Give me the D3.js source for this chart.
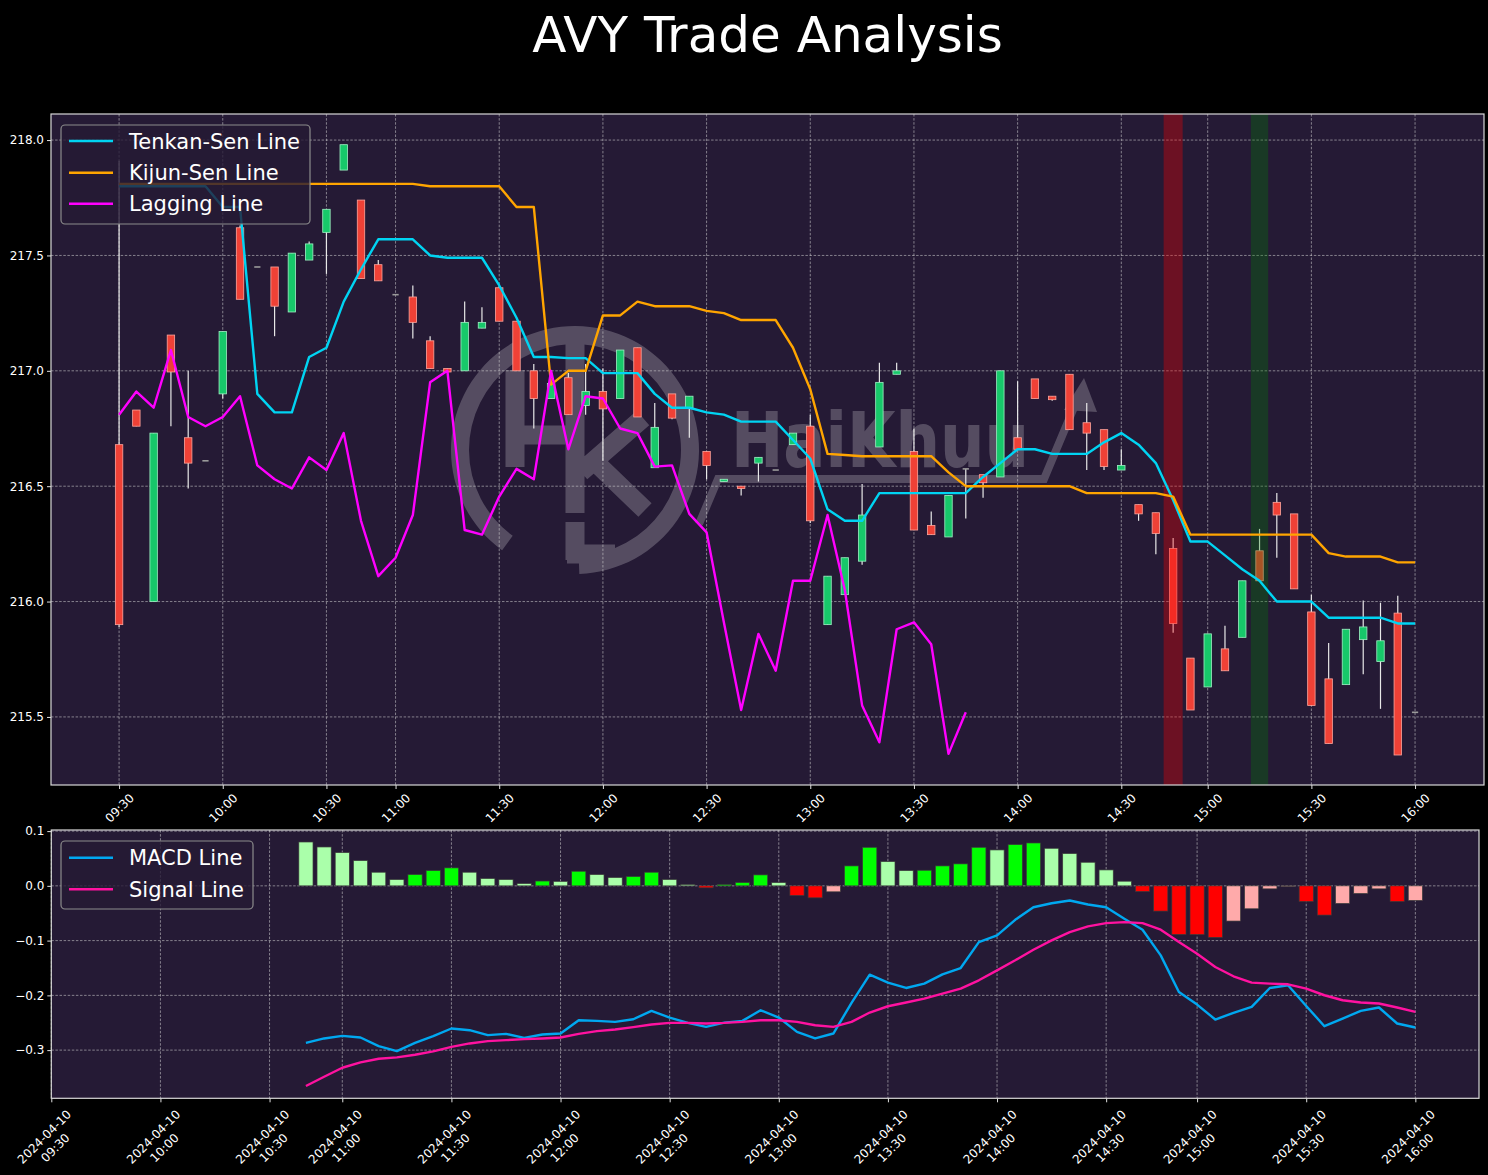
<!DOCTYPE html>
<html><head><meta charset="utf-8">
<script src="https://cdn.jsdelivr.net/npm/d3@7"></script>
<style>
body{margin:0;background:#000;}
svg{display:block;}
text{font-family:"DejaVu Sans",sans-serif;}
</style>
</head><body>
<svg id="chart" width="1488" height="1175"></svg>
<script>
// ---------------- DATA ----------------
const chartTitle = "AVY Trade Analysis";
const dateLabel = "2024-04-10";
const tickIndex = [0,6,12,16,22,28,34,40,46,52,58,63,69,75];
const tickLabels = ["09:30","10:00","10:30","11:00","11:30","12:00","12:30","13:00","13:30","14:00","14:30","15:00","15:30","16:00"];
const priceTicks = [215.5,216.0,216.5,217.0,217.5,218.0];
const macdTicks = [0.1,0.0,-0.1,-0.2,-0.3];

const openP = [216.68,216.83,216.00,217.155,216.71,216.61,216.90,217.62,217.45,217.45,
217.255,217.48,217.60,217.87,217.74,217.46,217.33,217.32,217.13,217.01,
217.00,217.185,217.36,217.215,217.00,216.88,216.97,216.85,216.91,216.88,
217.10,216.58,216.90,216.84,216.65,216.52,216.50,216.60,216.57,216.68,
216.76,215.90,216.03,216.175,216.67,216.985,216.65,216.33,216.28,216.575,
216.55,216.54,216.71,216.965,216.89,216.985,216.775,216.745,216.57,216.42,
216.385,216.23,215.755,215.63,215.795,215.845,216.22,216.43,216.38,215.955,
215.665,215.64,215.835,215.74,215.95,215.52];
const highP = [217.91,216.83,216.73,217.155,217.00,216.61,217.17,217.63,217.45,217.45,
217.51,217.56,217.70,217.98,217.74,217.48,217.33,217.37,217.15,217.01,
217.30,217.275,217.37,217.215,217.03,216.95,216.99,217.03,217.01,217.09,
217.10,216.86,216.90,216.89,216.65,216.53,216.50,216.625,216.57,216.73,
216.81,216.11,216.19,216.51,217.035,217.035,216.75,216.39,216.46,216.575,
216.55,217.00,216.955,216.965,216.89,216.985,216.86,216.745,216.66,216.42,
216.385,216.275,215.755,215.86,215.895,216.09,216.315,216.47,216.38,216.03,
215.82,215.88,216.005,215.995,216.025,215.52];
const lowP = [215.89,216.76,216.00,216.76,216.49,216.61,216.88,217.31,217.45,217.15,
217.255,217.48,217.42,217.87,217.40,217.39,217.33,217.14,217.01,216.99,
217.00,217.185,217.215,217.00,216.75,216.88,216.81,216.81,216.61,216.88,
216.80,216.58,216.79,216.71,216.53,216.52,216.46,216.52,216.57,216.68,
216.34,215.90,216.03,216.16,216.67,216.985,216.31,216.29,216.28,216.36,
216.45,216.54,216.66,216.88,216.87,216.745,216.57,216.57,216.57,216.35,
216.205,215.865,215.53,215.63,215.70,215.845,216.09,216.19,216.055,215.55,
215.385,215.64,215.685,215.535,215.335,215.52];
const closeP = [215.90,216.76,216.73,216.995,216.60,216.61,217.17,217.31,217.45,217.28,
217.51,217.55,217.70,217.98,217.40,217.39,217.33,217.21,217.01,216.995,
217.21,217.21,217.215,217.00,216.88,216.945,216.81,216.91,216.835,217.09,
216.80,216.755,216.795,216.89,216.59,216.53,216.49,216.625,216.57,216.73,
216.35,216.11,216.19,216.375,216.95,217.00,216.31,216.29,216.46,216.575,
216.515,217.00,216.66,216.88,216.875,216.745,216.73,216.585,216.59,216.38,
216.295,215.905,215.53,215.86,215.70,216.09,216.09,216.375,216.055,215.55,
215.385,215.88,215.89,215.83,215.335,215.52];

const tenkan = [217.80,217.80,217.80,217.80,217.80,217.80,217.71,217.71,216.90,216.82,
216.82,217.06,217.10,217.30,217.44,217.57,217.57,217.57,217.50,217.49,
217.49,217.49,217.37,217.23,217.06,217.06,217.055,217.055,216.99,216.99,
216.99,216.90,216.84,216.84,216.82,216.81,216.78,216.78,216.78,216.70,
216.62,216.40,216.35,216.35,216.47,216.47,216.47,216.47,216.47,216.47,
216.54,216.60,216.66,216.66,216.64,216.64,216.64,216.69,216.73,216.68,
216.60,216.44,216.26,216.26,216.20,216.14,216.09,216.00,216.00,216.00,
215.93,215.93,215.93,215.93,215.905,215.905];
const kijun = [217.81,217.81,217.81,217.81,217.81,217.81,217.81,217.81,217.81,217.81,
217.81,217.81,217.81,217.81,217.81,217.81,217.81,217.81,217.80,217.80,
217.80,217.80,217.80,217.71,217.71,216.94,217.00,217.00,217.24,217.24,
217.30,217.28,217.28,217.28,217.26,217.25,217.22,217.22,217.22,217.10,
216.92,216.64,216.635,216.63,216.63,216.63,216.63,216.63,216.56,216.50,
216.50,216.50,216.50,216.50,216.50,216.50,216.47,216.47,216.47,216.47,
216.47,216.455,216.29,216.29,216.29,216.29,216.29,216.29,216.29,216.29,
216.21,216.195,216.195,216.195,216.17,216.17];
const lagging = [216.81,216.91,216.84,217.09,216.80,216.76,216.80,216.89,216.59,216.53,
216.49,216.625,216.57,216.73,216.35,216.11,216.19,216.375,216.95,217.00,
216.31,216.29,216.455,216.575,216.53,217.00,216.66,216.89,216.88,216.75,
216.73,216.585,216.59,216.38,216.30,215.91,215.53,215.86,215.70,216.09,
216.09,216.375,216.05,215.55,215.39,215.88,215.91,215.815,215.34,215.52];

const sellSignals = [61];
const buySignals = [66];

const macdStart = 14;
const macdLine = [-0.2867,-0.2787,-0.2740,-0.2770,-0.2927,-0.3018,-0.2867,-0.2745,-0.2605,-0.2636,
-0.2727,-0.2703,-0.2776,-0.2715,-0.2697,-0.2454,-0.2466,-0.2484,-0.2436,-0.2284,
-0.2405,-0.2503,-0.2576,-0.2497,-0.2466,-0.2272,-0.2405,-0.2666,-0.2787,-0.2697,
-0.2138,-0.1621,-0.1767,-0.1865,-0.1785,-0.1616,-0.1501,-0.1027,-0.0905,-0.0620,
-0.0390,-0.0317,-0.0268,-0.0340,-0.0390,-0.0601,-0.0801,-0.1270,-0.1938,-0.2168,
-0.2441,-0.2320,-0.2211,-0.1865,-0.1816,-0.2193,-0.2563,-0.2423,-0.2284,-0.2222,
-0.2514,-0.2587];
const signalLine = [-0.3656,-0.3486,-0.3322,-0.3225,-0.3158,-0.3133,-0.3085,-0.3024,-0.2940,-0.2878,
-0.2836,-0.2818,-0.2800,-0.2787,-0.2769,-0.2703,-0.2654,-0.2623,-0.2581,-0.2532,
-0.2503,-0.2503,-0.2514,-0.2503,-0.2484,-0.2454,-0.2454,-0.2484,-0.2545,-0.2576,
-0.2484,-0.2314,-0.2199,-0.2131,-0.2059,-0.1968,-0.1876,-0.1725,-0.1543,-0.1360,
-0.1166,-0.0996,-0.0845,-0.0741,-0.0681,-0.0663,-0.0681,-0.0801,-0.1027,-0.1239,
-0.1482,-0.1652,-0.1767,-0.1785,-0.1798,-0.1876,-0.1998,-0.2089,-0.2131,-0.2149,
-0.2222,-0.2302];
const histogram = [0.0801,0.0710,0.0607,0.0461,0.0249,0.0115,0.0206,0.0279,0.0328,0.0249,
0.0134,0.0115,0.0042,0.0088,0.0082,0.0267,0.0206,0.0152,0.0170,0.0249,
0.0115,0.0024,-0.0036,0.0024,0.0060,0.0200,0.0060,-0.0176,-0.0219,-0.0109,
0.0364,0.0704,0.0443,0.0279,0.0285,0.0364,0.0401,0.0704,0.0656,0.0753,
0.0783,0.0686,0.0589,0.0431,0.0291,0.0085,-0.0103,-0.0461,-0.0887,-0.0890,
-0.0941,-0.0643,-0.0419,-0.0055,-0.0012,-0.0286,-0.0534,-0.0322,-0.0140,-0.0055,
-0.0286,-0.0267];

// ---------------- LAYOUT ----------------
const TOP = {l:51, r:1484, t:114, b:785};
const BOT = {l:51.3, r:1479, t:830, b:1098.3};
const BG = "#251a35";
const svg = d3.select("#chart");
svg.append("rect").attr("width",1488).attr("height",1175).attr("fill","#000");

const xTop = d3.scaleLinear().domain([-3.94, 78.99]).range([TOP.l, TOP.r]);
const yTop = d3.scaleLinear().domain([215.205, 218.113]).range([TOP.b, TOP.t]);
const xBot = d3.scaleLinear().domain([0, 78.5]).range([BOT.l, BOT.r]);
const yBot = d3.scaleLinear().domain([-0.388, 0.102]).range([BOT.b, BOT.t]);

// title
svg.append("text").attr("x",(TOP.l+TOP.r)/2).attr("y",52).attr("text-anchor","middle")
  .attr("fill","#fff").attr("font-size",50).text(chartTitle);

// ---------------- TOP PANEL ----------------
const topG = svg.append("g");
topG.append("clipPath").attr("id","clipTop").append("rect")
  .attr("x",TOP.l).attr("y",TOP.t).attr("width",TOP.r-TOP.l).attr("height",TOP.b-TOP.t);
topG.append("rect").attr("x",TOP.l).attr("y",TOP.t).attr("width",TOP.r-TOP.l).attr("height",TOP.b-TOP.t).attr("fill",BG);

// watermark (logo decoration)
const wm = topG.append("g").attr("clip-path","url(#clipTop)").attr("fill","#fff").attr("stroke","#fff").attr("opacity",0.22);
{
  const cx = 575, cy = 450, r = 124;
  const arc = d3.arc().innerRadius(r-18).outerRadius(r).startAngle(Math.PI*216/180).endAngle(Math.PI*(360+178)/180);
  wm.append("path").attr("d",arc()).attr("transform",`translate(${cx},${cy})`).attr("stroke","none");
  const s = wm.append("g").attr("fill","none").attr("stroke-width",19).attr("stroke-linecap","butt");
  s.append("path").attr("d",`M${cx-60},${cy-80} L${cx-60},${cy+17} M${cx-60},${cy-15} L${cx},${cy-15}`);
  s.append("path").attr("d",`M${cx},${cy-112} L${cx},${cy+63} M${cx+6},${cy+22} L${cx+68},${cy-32} M${cx+16},${cy+8} L${cx+70},${cy+60}`);
  s.append("path").attr("d",`M${cx},${cy+72} L${cx},${cy+110} M${cx-8},${cy+104} L${cx+40},${cy+104}`);
  wm.append("text").attr("x",731).attr("y",467).attr("font-size",76).attr("font-weight","bold").attr("stroke","none")
    .attr("textLength",298).attr("lengthAdjust","spacingAndGlyphs").text("HaiKhuu");
  wm.append("path").attr("fill","none").attr("stroke-width",8)
    .attr("d","M699,524 L718,479 L1044,479 L1075,405");
  wm.append("path").attr("stroke","none").attr("d","M1084,378 L1064,410 L1097,412 Z");
}

// grid
const gridStyle = g => g.attr("stroke","#d4d4d4").attr("stroke-opacity",0.62).attr("stroke-width",0.9).attr("stroke-dasharray","2.5,1.6");
const gTop = topG.append("g").call(gridStyle);
gTop.selectAll(".v").data(tickIndex).join("line").attr("x1",d=>xTop(d)).attr("x2",d=>xTop(d)).attr("y1",TOP.t).attr("y2",TOP.b);
gTop.selectAll(".h").data(priceTicks).join("line").attr("y1",d=>yTop(d)).attr("y2",d=>yTop(d)).attr("x1",TOP.l).attr("x2",TOP.r);

// candles
const step = xTop(1)-xTop(0);
const bw = step*0.43;
const candles = d3.range(openP.length).map(i=>({i, o:openP[i], h:highP[i], l:lowP[i], c:closeP[i]}));
const cg = topG.append("g").attr("clip-path","url(#clipTop)");
cg.selectAll(".wick").data(candles.filter(d=>d.h>d.l)).join("line")
  .attr("x1",d=>xTop(d.i)).attr("x2",d=>xTop(d.i)).attr("y1",d=>yTop(d.h)).attr("y2",d=>yTop(d.l))
  .attr("stroke","#e8e8e8").attr("stroke-width",1.2);
cg.selectAll(".body").data(candles.filter(d=>d.o!==d.c)).join("rect")
  .attr("x",d=>xTop(d.i)-bw/2).attr("width",bw)
  .attr("y",d=>yTop(Math.max(d.o,d.c)))
  .attr("height",d=>Math.max(1,Math.abs(yTop(d.o)-yTop(d.c))))
  .attr("fill",d=>d.c>d.o?"#17c86a":"#ef4136")
  .attr("stroke",d=>d.c>d.o?"#9ff0c4":"#ffa59c").attr("stroke-width",0.8);
cg.selectAll(".doji").data(candles.filter(d=>d.o===d.c)).join("line")
  .attr("x1",d=>xTop(d.i)-bw*0.42).attr("x2",d=>xTop(d.i)+bw*0.42)
  .attr("y1",d=>yTop(d.c)).attr("y2",d=>yTop(d.c))
  .attr("stroke","#9a9a9a").attr("stroke-width",1.6);

// signal bands
const bandG = topG.append("g");
bandG.selectAll(".sell").data(sellSignals).join("rect")
  .attr("x",d=>xTop(d-0.55)).attr("width",d=>xTop(d+0.55)-xTop(d-0.55))
  .attr("y",TOP.t).attr("height",TOP.b-TOP.t).attr("fill","#ff0000").attr("opacity",0.33);
bandG.selectAll(".buy").data(buySignals).join("rect")
  .attr("x",d=>xTop(d-0.5)).attr("width",d=>xTop(d+0.5)-xTop(d-0.5))
  .attr("y",TOP.t).attr("height",TOP.b-TOP.t).attr("fill","#008000").attr("opacity",0.3);

// lines
const lineTop = d3.line().x((d,i)=>xTop(i)).y(d=>yTop(d));
const lg = topG.append("g").attr("clip-path","url(#clipTop)").attr("fill","none").attr("stroke-width",2.4).attr("stroke-linejoin","round");
lg.append("path").attr("d",lineTop(tenkan)).attr("stroke","#00d4f2");
lg.append("path").attr("d",lineTop(kijun)).attr("stroke","#ffa500");
lg.append("path").attr("d",lineTop(lagging)).attr("stroke","#ff00ff");

// frame
topG.append("rect").attr("x",TOP.l).attr("y",TOP.t).attr("width",TOP.r-TOP.l).attr("height",TOP.b-TOP.t)
  .attr("fill","none").attr("stroke","#d8d8d8").attr("stroke-width",1.2);

// axes
const styleAxis = g => { g.select(".domain").remove(); g.selectAll("line").attr("stroke","#e0e0e0"); g.selectAll("text").attr("fill","#fff"); g.attr("font-size",12).attr("font-family","DejaVu Sans"); };
svg.append("g").attr("transform",`translate(${TOP.l},0)`)
  .call(d3.axisLeft(yTop).tickValues(priceTicks).tickFormat(d3.format(".1f")).tickSize(4).tickPadding(3)).call(styleAxis);
const axTopX = svg.append("g").attr("transform",`translate(0,${TOP.b})`)
  .call(d3.axisBottom(xTop).tickValues(tickIndex).tickFormat(d=>tickLabels[tickIndex.indexOf(d)]).tickSize(4)).call(styleAxis);
axTopX.selectAll("text").attr("y",0).attr("dy","0.35em").attr("text-anchor","middle").attr("transform","translate(0,23) rotate(-45)");

// legend
function legend(x,y,w,h,items,rowY){
  const g = svg.append("g");
  g.append("rect").attr("x",x).attr("y",y).attr("width",w).attr("height",h).attr("rx",4)
    .attr("fill",BG).attr("fill-opacity",0.8).attr("stroke","#8c8c8c").attr("stroke-width",1.2);
  items.forEach((it,k)=>{
    const yy = rowY[k];
    g.append("line").attr("x1",x+8).attr("x2",x+52).attr("y1",yy).attr("y2",yy).attr("stroke",it.color).attr("stroke-width",2.6);
    g.append("text").attr("x",x+68).attr("y",yy+7.5).attr("fill","#fff").attr("font-size",21).text(it.label);
  });
}
legend(61,125,249,99,[{label:"Tenkan-Sen Line",color:"#00d4f2"},{label:"Kijun-Sen Line",color:"#ffa500"},{label:"Lagging Line",color:"#ff00ff"}],[141,172.7,203.7]);

// ---------------- BOTTOM PANEL ----------------
const botG = svg.append("g");
botG.append("rect").attr("x",BOT.l).attr("y",BOT.t).attr("width",BOT.r-BOT.l).attr("height",BOT.b-BOT.t).attr("fill",BG);
const gBot = botG.append("g").call(gridStyle);
gBot.selectAll(".v").data(tickIndex).join("line").attr("x1",d=>xBot(d)).attr("x2",d=>xBot(d)).attr("y1",BOT.t).attr("y2",BOT.b);
gBot.selectAll(".h").data(macdTicks).join("line").attr("y1",d=>yBot(d)).attr("y2",d=>yBot(d)).attr("x1",BOT.l).attr("x2",BOT.r);

const hb = histogram.map((v,k)=>({i:macdStart+k, v, prev: k>0?histogram[k-1]:undefined}));
const hcol = d => d.v>=0 ? ((d.prev!==undefined && d.v>d.prev) ? "#00ff00" : "#aaffaa")
                         : ((d.prev!==undefined && d.v<d.prev) ? "#ff0000" : "#ffaaaa");
const hw = (xBot(1)-xBot(0))*0.78;
botG.append("g").selectAll("rect").data(hb).join("rect")
  .attr("x",d=>xBot(d.i)-hw/2).attr("width",hw)
  .attr("y",d=>yBot(Math.max(0,d.v))).attr("height",d=>Math.abs(yBot(d.v)-yBot(0)))
  .attr("fill",hcol).attr("stroke","#3a3a3a").attr("stroke-width",0.7);

const lineBot = d3.line().x((d,k)=>xBot(macdStart+k)).y(d=>yBot(d));
const mg = botG.append("g").attr("fill","none").attr("stroke-width",2.4).attr("stroke-linejoin","round");
mg.append("path").attr("d",lineBot(macdLine)).attr("stroke","#00a8f0");
mg.append("path").attr("d",lineBot(signalLine)).attr("stroke","#ff12a0");

botG.append("rect").attr("x",BOT.l).attr("y",BOT.t).attr("width",BOT.r-BOT.l).attr("height",BOT.b-BOT.t)
  .attr("fill","none").attr("stroke","#d8d8d8").attr("stroke-width",1.2);

svg.append("g").attr("transform",`translate(${BOT.l},0)`)
  .call(d3.axisLeft(yBot).tickValues(macdTicks).tickFormat(d3.format(".1f")).tickSize(4).tickPadding(3)).call(styleAxis);
svg.append("g").attr("transform",`translate(0,${BOT.b})`)
  .call(d3.axisBottom(xBot).tickValues(tickIndex).tickFormat("").tickSize(4)).call(styleAxis);
const bl = svg.append("g").attr("font-size",12).attr("fill","#fff");
tickIndex.forEach((d,k)=>{
  const g = bl.append("g").attr("transform",`translate(${xBot(d)-7},${BOT.b+38.5}) rotate(-45)`);
  g.append("text").attr("text-anchor","middle").attr("dy","0.35em").text(dateLabel);
  g.append("text").attr("text-anchor","middle").attr("y",15.5).attr("dy","0.35em").text(tickLabels[k]);
});

legend(61,841,192,68,[{label:"MACD Line",color:"#00a8f0"},{label:"Signal Line",color:"#ff12a0"}],[857.7,889.3]);
</script>
</body></html>
